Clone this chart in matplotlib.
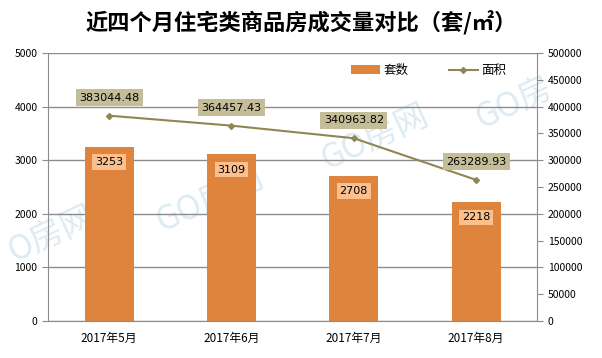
import matplotlib
matplotlib.use('Agg')
import matplotlib.pyplot as plt
import numpy as np

plt.rcParams['font.family'] = ['Noto Sans CJK SC', 'DejaVu Sans']

# 数据
months = ['2017年5月', '2017年6月', '2017年7月', '2017年8月']
units = [3253, 3109, 2708, 2218]
areas = [383044.48, 364457.43, 340963.82, 263289.93]
left_ticks = [0, 1000, 2000, 3000, 4000, 5000]
right_ticks = [0, 50000, 100000, 150000, 200000, 250000, 300000, 350000, 400000, 450000, 500000]

bar_color = '#df843d'
line_color = '#8f8753'
grid_color = '#8c8c8c'

fig = plt.figure(figsize=(6.02, 3.58), dpi=100)

# 水印 (在图层后面)
for (px, py, s) in [(2, 262, 'O房网'), (150, 232, 'GO房网'), (315, 170, 'GO房网'),
                    (470, 128, 'GO房')]:
    fig.text(px / 602, 1 - py / 358, s, fontsize=24, color='#dcecf2',
             rotation=25, zorder=-5)

ax = fig.add_axes([0.0797, 0.1034, 0.8127, 0.7486])
ax.patch.set_alpha(0)
x = np.arange(len(months))
ax.bar(x, units, width=0.4, color=bar_color, label='套数', zorder=2)
ax.set_ylim(0, 5000)
ax.set_xlim(-0.5, len(months) - 0.5)
ax.set_yticks(left_ticks)
ax.set_xticks(x)
ax.set_xticklabels(months, fontsize=8.5)
ax.yaxis.grid(True, color=grid_color, linewidth=1)
ax.set_axisbelow(True)
ax.tick_params(axis='y', labelsize=7.5, length=4, color=grid_color, direction='out')
ax.tick_params(axis='x', length=0, pad=8)
for s in ['top', 'right']:
    ax.spines[s].set_visible(False)
for s in ['left', 'bottom']:
    ax.spines[s].set_color(grid_color)

for xi, v in zip(x, units):
    ax.annotate(str(v), (xi, v), xytext=(0, -11), textcoords='offset points',
                ha='center', va='center', fontsize=8, family='DejaVu Sans',
                bbox=dict(boxstyle='square,pad=0.25', fc='#fbc08e', ec='none'), zorder=4)

ax2 = ax.twinx()
ax2.plot(x, areas, color=line_color, marker='D', markersize=3, linewidth=1.5, label='面积')
ax2.set_ylim(0, 500000)
ax2.set_yticks(right_ticks)
ax2.tick_params(axis='y', labelsize=7.5, length=4, color=grid_color, direction='out')
for s in ['top', 'left', 'bottom']:
    ax2.spines[s].set_visible(False)
ax2.spines['right'].set_color(grid_color)

for xi, v in zip(x, areas):
    ax2.annotate('%.2f' % v, (xi, v), xytext=(0, 13), textcoords='offset points',
                 ha='center', va='center', fontsize=8, family='DejaVu Sans',
                 bbox=dict(boxstyle='square,pad=0.3', fc='#c4bd97', ec='none'))

h1, l1 = ax.get_legend_handles_labels()
h2, l2 = ax2.get_legend_handles_labels()
ax2.legend(h1 + h2, l1 + l2, loc='upper right', bbox_to_anchor=(0.96, 1.0), ncol=2,
           frameon=False, fontsize=9, handlelength=2.3, handletextpad=0.3,
           columnspacing=3.2)

fig.text(0.5, 0.935, '近四个月住宅类商品房成交量对比（套/㎡）', ha='center', va='center',
         fontsize=16, fontweight='bold')

fig.savefig('out.png', dpi=100)
